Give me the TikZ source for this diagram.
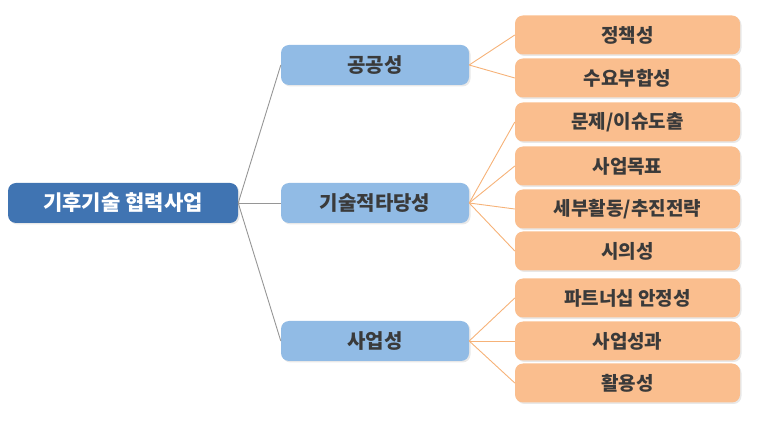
\documentclass[tikz,border=0pt]{standalone}
\usepackage{fontspec}
\newfontfamily\krfont{Noto Sans CJK KR}
\usetikzlibrary{shadows}

\definecolor{rootblue}{RGB}{64,116,178}
\definecolor{midblue}{RGB}{145,187,229}
\definecolor{leaforange}{RGB}{250,190,142}
\definecolor{textgray}{RGB}{58,58,58}
\definecolor{linegray}{RGB}{150,150,150}
\definecolor{lineorange}{RGB}{246,178,120}

\tikzset{
	box/.style={rounded corners=8pt, inner sep=0pt, font=\krfont\bfseries\fontsize{19}{21}\selectfont,
		drop shadow={opacity=0.18, shadow xshift=1.5pt, shadow yshift=-1.5pt}},
	rootbox/.style={box, fill=rootblue, text=white, minimum width=230pt, minimum height=40pt,
		font=\krfont\bfseries\fontsize{21}{23}\selectfont},
	midbox/.style={box, fill=midblue, text=textgray, minimum width=188pt, minimum height=40pt,
		font=\krfont\bfseries\fontsize{20}{22}\selectfont},
	leafbox/.style={box, fill=leaforange, text=textgray, minimum width=225pt, minimum height=39pt},
	branch/.style={draw=linegray, line width=0.9pt},
	twig/.style={draw=lineorange, line width=0.9pt}
}

\begin{document}
\begin{tikzpicture}[x=1pt,y=-1pt]
	\useasboundingbox (0,0) rectangle (771,427);

	% root and criteria
	\node[rootbox] (root) at (123,203) {기후기술 협력사업};
	\node[midbox] (public) at (375,65) {공공성};
	\node[midbox] (tech) at (375,203) {기술적타당성};
	\node[midbox] (biz) at (375,341) {사업성};

	% sub-criteria
	\node[leafbox] (policy) at (627.5,35) {정책성};
	\node[leafbox] (demand) at (627.5,78) {수요부합성};
	\node[leafbox] (issue) at (627.5,122) {문제/이슈도출};
	\node[leafbox] (goal) at (627.5,166) {사업목표};
	\node[leafbox] (plan) at (627.5,209) {세부활동/추진전략};
	\node[leafbox] (timely) at (627.5,251) {시의성};
	\node[leafbox] (partner) at (627.5,298) {파트너십 안정성};
	\node[leafbox] (result) at (627.5,341) {사업성과};
	\node[leafbox] (use) at (627.5,383) {활용성};

	\foreach \m in {public,tech,biz}
		\draw[branch] (root.east) -- (\m.west);

	\foreach \l in {policy,demand}
		\draw[twig] (public.east) -- (\l.west);
	\foreach \l in {issue,goal,plan,timely}
		\draw[twig] (tech.east) -- (\l.west);
	\foreach \l in {partner,result,use}
		\draw[twig] (biz.east) -- (\l.west);
\end{tikzpicture}
\end{document}
